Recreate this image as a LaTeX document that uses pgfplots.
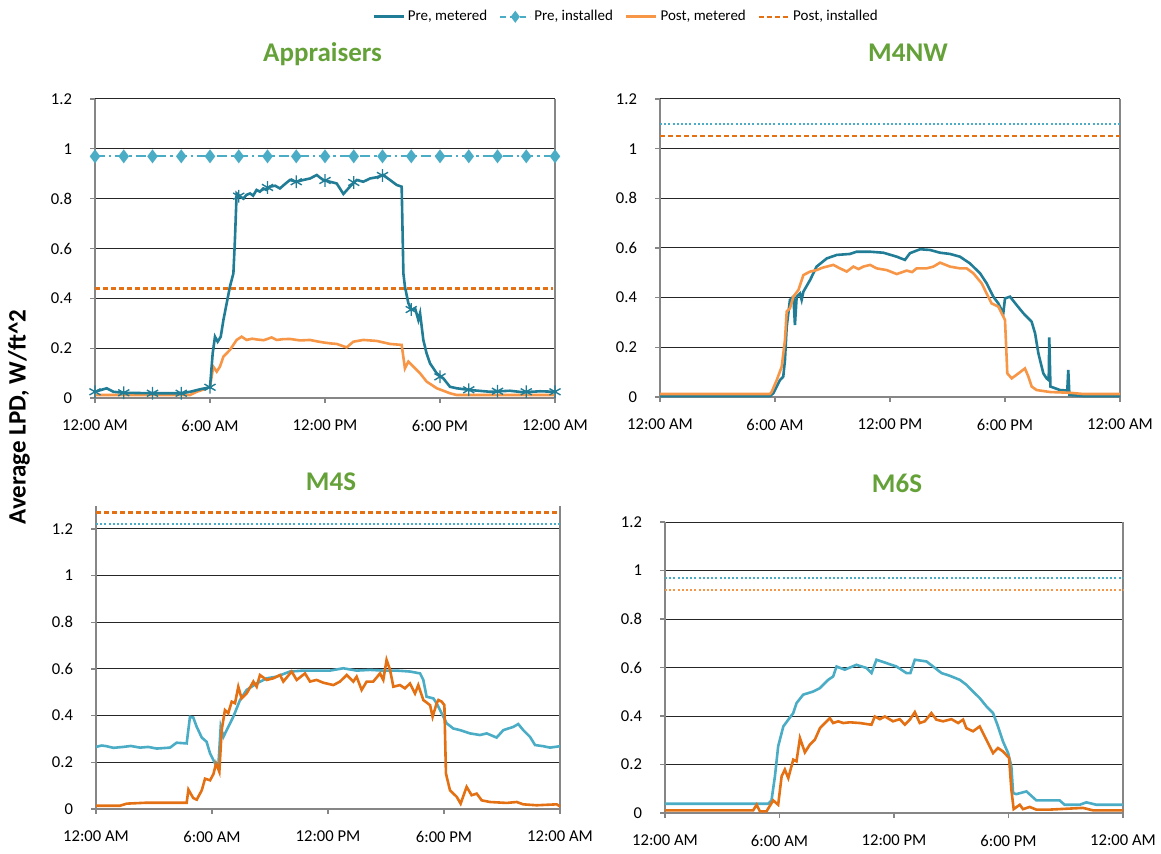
\documentclass[border=0pt]{standalone}
\usepackage{fontspec}
\setmainfont{Carlito}
\usepackage{pgfplots}
\pgfplotsset{compat=1.18}

\definecolor{preM}{RGB}{33,125,150}
\definecolor{preI}{RGB}{75,172,198}
\definecolor{postL}{RGB}{247,150,70}
\definecolor{postD}{RGB}{228,112,20}
\definecolor{ttl}{RGB}{101,161,57}
\definecolor{axgray}{RGB}{134,134,134}

\pgfplotsset{
  lpd/.style={
    scale only axis, anchor=south west,
    xmin=0, xmax=24, ymin=0, ymax=1.2,
    xtick={0,6,12,18,24},
    xticklabels={12:00 AM,6:00 AM,12:00 PM,6:00 PM,12:00 AM},
    ytick={0,0.2,0.4,0.6,0.8,1,1.2},
    ymajorgrids, major grid style={black!85, line width=0.5pt},
    axis x line*=bottom, axis y line*=left,
    axis line style={axgray, line width=0.6pt},
    tick align=outside, major tick length=2.5pt,
    tick style={axgray, line width=0.6pt},
    every tick label/.append style={font=\fontsize{8.3}{10}\selectfont},
    xticklabel style={yshift=-5pt},
    yticklabel style={xshift=-5.5pt},
    /pgf/number format/assume math mode=true,
    clip=false,
  },
  met/.style={line width=1.3pt},
  inst dash/.style={postD, line width=1.2pt, dash pattern=on 2.5pt off 1.5pt},
  dotc/.style={line width=1.1pt, dash pattern=on 1pt off 1.1pt},
}

\begin{document}
\begin{tikzpicture}
\useasboundingbox (0,0) rectangle (580.5pt,-427pt);

% ---------- Appraisers ----------
\begin{axis}[lpd, at={(47.5pt,-199pt)}, width=230pt, height=149.5pt,
  legend columns=4,
  legend style={at={(1.1554,1.275)}, anchor=center, draw=none, fill=none,
    font=\fontsize{7.5}{9}\selectfont, inner sep=0pt,
    nodes={inner sep=1.5pt},
    /tikz/every even column/.append style={column sep=4.5pt}},
  legend image code/.code={\draw[mark repeat=2,mark phase=2,#1] plot coordinates {(0pt,0pt) (7.5pt,0pt) (15pt,0pt)};},
]
\addlegendimage{preM, met}
\addlegendentry{Pre, metered}
\addlegendimage{preI, line width=1pt, dash pattern=on 3pt off 2pt, mark=diamond*, mark size=2.2pt, mark options={solid}}
\addlegendentry{Pre, installed}
\addlegendimage{postL, met}
\addlegendentry{Post, metered}
\addlegendimage{inst dash}
\addlegendentry{Post, installed}

\draw[axgray, line width=0.6pt] (rel axis cs:1,0) -- (rel axis cs:1,1);

\addplot[inst dash, forget plot] coordinates {(0,0.44) (23.9,0.44)};
\addplot[preI, line width=1.1pt, dash pattern=on 5pt off 2pt on 1.2pt off 2pt,
  mark=diamond*, mark size=2.6pt, mark options={solid}, forget plot] coordinates {
  (0,0.97) (1.5,0.97) (3,0.97) (4.5,0.97) (6,0.97) (7.5,0.97) (9,0.97) (10.5,0.97)
  (12,0.97) (13.5,0.97) (15,0.97) (16.5,0.97) (18,0.97) (19.5,0.97) (21,0.97)
  (22.5,0.97) (24,0.97)};
\addplot[postL, met, forget plot] coordinates {
  (0,0.012) (4.96,0.012) (5.3,0.025) (5.74,0.036) (6.0,0.045) (6.17,0.126)
  (6.35,0.106) (6.52,0.126) (6.7,0.166) (7.04,0.193) (7.39,0.233) (7.65,0.246)
  (7.91,0.233) (8.2,0.238) (8.43,0.235) (8.8,0.232) (9.22,0.243) (9.48,0.233)
  (9.8,0.236) (10.17,0.237) (10.7,0.231) (11.22,0.233) (11.6,0.227)
  (11.91,0.223) (12.3,0.219) (12.61,0.217) (13.13,0.203) (13.48,0.226) (14.0,0.233) (14.7,0.229)
  (15.39,0.217) (16.0,0.213) (16.17,0.119) (16.35,0.146) (16.61,0.126) (16.96,0.099)
  (17.3,0.066) (17.83,0.039) (18.52,0.019) (18.87,0.012) (24,0.012)};
\addplot[preM, met, forget plot] coordinates {
  (0,0.025) (0.61,0.039) (0.96,0.025) (1.48,0.021) (3.04,0.019) (4.52,0.019)
  (4.96,0.025) (5.48,0.035) (6.0,0.043) (6.14,0.179) (6.26,0.246) (6.4,0.226)
  (6.56,0.246) (6.7,0.313) (6.87,0.38) (7.04,0.447) (7.22,0.5) (7.3,0.634)
  (7.39,0.821) (7.55,0.81) (7.74,0.80) (7.9,0.815) (8.09,0.821) (8.25,0.812) (8.43,0.835)
  (8.6,0.828) (8.78,0.841) (8.95,0.835) (9.13,0.848) (9.4,0.852)
  (9.65,0.841) (9.9,0.858) (10.17,0.875) (10.52,0.868) (10.87,0.875) (11.22,0.881) (11.57,0.895)
  (11.75,0.884) (11.91,0.875) (12.26,0.868) (12.61,0.861) (12.96,0.819) (13.3,0.848) (13.65,0.875)
  (14.0,0.868) (14.35,0.881) (14.7,0.886) (15.04,0.895) (15.39,0.875) (15.74,0.855)
  (16.0,0.848) (16.09,0.5) (16.17,0.447) (16.35,0.38) (16.52,0.353) (16.7,0.36)
  (16.87,0.313) (16.96,0.34) (17.13,0.233) (17.3,0.179) (17.48,0.139) (17.83,0.099)
  (18.17,0.079) (18.52,0.045) (18.87,0.039) (19.57,0.032) (20.61,0.025) (21.65,0.029)
  (22.35,0.023) (23.22,0.027) (24,0.025)};
\addplot[preM, only marks, mark=asterisk, mark size=3.2pt, line width=0.7pt, forget plot] coordinates {
  (0,0.025) (1.5,0.021) (3,0.019) (4.5,0.019) (6,0.043) (7.5,0.81) (9,0.845)
  (10.5,0.868) (12,0.873) (13.5,0.865) (15,0.893) (16.5,0.355) (18,0.085)
  (19.5,0.033) (21,0.027) (22.5,0.025) (24,0.025)};
\end{axis}

% ---------- M4NW ----------
\begin{axis}[lpd, at={(330pt,-198.5pt)}, width=230pt, height=149pt]
\draw[axgray, line width=0.6pt] (rel axis cs:1,0) -- (rel axis cs:1,1);
\addplot[preI, dotc] coordinates {(0,1.10) (24,1.10)};
\addplot[inst dash] coordinates {(0,1.05) (24,1.05)};
\addplot[preM, met] coordinates {
  (0,0.004) (5.74,0.004) (5.91,0.015) (6.26,0.068) (6.43,0.082) (6.52,0.149)
  (6.61,0.283) (6.78,0.391) (6.96,0.404) (7.04,0.29) (7.13,0.404) (7.3,0.417)
  (7.39,0.391) (7.48,0.424) (7.83,0.471) (8.17,0.525) (8.7,0.558) (9.22,0.572)
  (9.91,0.576) (10.26,0.585) (10.96,0.585) (11.65,0.581) (12.35,0.565) (12.78,0.552)
  (13.04,0.579) (13.57,0.595) (14.09,0.592) (14.61,0.581) (15.13,0.576) (15.65,0.565)
  (16.17,0.538) (16.7,0.498) (17.04,0.458) (17.39,0.404) (17.65,0.377) (17.91,0.337)
  (18.0,0.397) (18.26,0.404) (18.61,0.37) (18.96,0.337) (19.39,0.303) (19.57,0.256)
  (19.74,0.176) (20.0,0.095) (20.17,0.075) (20.28,0.068) (20.31,0.240) (20.37,0.042)
  (20.87,0.028) (21.25,0.026) (21.3,0.109) (21.36,0.008) (22.09,0.004) (24,0.004)};
\addplot[postL, met] coordinates {
  (0,0.012) (5.74,0.012) (5.83,0.021) (6.09,0.068) (6.35,0.122) (6.52,0.23)
  (6.61,0.344) (6.78,0.357) (6.96,0.404) (7.22,0.431) (7.48,0.491) (7.83,0.505)
  (8.17,0.511) (8.45,0.52) (8.7,0.525) (9.04,0.532) (9.39,0.518) (9.74,0.505) (10.09,0.525)
  (10.35,0.515) (10.61,0.525) (10.96,0.532) (11.3,0.518) (11.83,0.511) (12.35,0.495) (12.87,0.509)
  (13.15,0.503) (13.39,0.518) (13.91,0.518) (14.26,0.525) (14.61,0.541) (15.13,0.525) (15.65,0.518)
  (16.0,0.518) (16.35,0.498) (16.78,0.458) (17.04,0.417) (17.3,0.377) (17.65,0.364)
  (18.0,0.31) (18.12,0.095) (18.35,0.075) (18.7,0.095) (19.04,0.115) (19.22,0.082)
  (19.39,0.042) (19.65,0.028) (20.35,0.02) (21.39,0.017) (22.09,0.012) (24,0.012)};
\end{axis}

% ---------- M4S ----------
\begin{axis}[lpd, at={(48pt,-404.5pt)}, width=232pt, height=151.7pt, ymax=1.3]
\draw[axgray, line width=0.6pt] (rel axis cs:1,0) -- (rel axis cs:1,1);
\addplot[preI, dotc] coordinates {(0,1.22) (24,1.22)};
\addplot[inst dash] coordinates {(0,1.27) (24,1.27)};
\addplot[preI, met] coordinates {
  (0,0.266) (0.3,0.272) (0.55,0.269) (0.9,0.262) (1.41,0.266) (1.8,0.27) (2.28,0.263) (2.7,0.266) (3.14,0.259) (3.83,0.263)
  (4.17,0.284) (4.69,0.281) (4.86,0.395) (5.03,0.392) (5.21,0.352) (5.47,0.306)
  (5.72,0.288) (5.9,0.238) (6.16,0.195) (6.33,0.188) (6.45,0.352) (6.59,0.309)
  (6.76,0.338) (7.1,0.395) (7.45,0.467) (7.79,0.51) (8.31,0.538) (8.83,0.56)
  (9.34,0.567) (10.03,0.589) (10.72,0.593) (11.41,0.593) (12.1,0.593) (12.79,0.603)
  (13.48,0.593) (14.17,0.596) (14.86,0.593) (15.55,0.593) (16.24,0.589) (16.76,0.581)
  (16.93,0.553) (17.1,0.481) (17.45,0.474) (17.62,0.453) (17.88,0.41) (18.14,0.367)
  (18.48,0.345) (18.83,0.338) (19.34,0.324) (19.86,0.317) (20.21,0.324) (20.72,0.306)
  (21.07,0.338) (21.59,0.352) (21.84,0.364) (22.1,0.338) (22.45,0.309) (22.71,0.274)
  (23.14,0.269) (23.48,0.263) (24,0.269)};
\addplot[postD, met] coordinates {
  (0,0.014) (1.24,0.014) (1.59,0.023) (2.62,0.027) (4.69,0.027) (4.78,0.083)
  (5.03,0.047) (5.21,0.04) (5.47,0.08) (5.64,0.13) (5.9,0.123) (6.07,0.149)
  (6.21,0.195) (6.38,0.159) (6.5,0.338) (6.67,0.424) (6.84,0.41) (7.02,0.46)
  (7.19,0.453) (7.36,0.524) (7.53,0.474) (7.79,0.495) (8.14,0.546) (8.31,0.524)
  (8.48,0.574) (8.83,0.553) (9.17,0.56) (9.52,0.574) (9.69,0.546) (10.12,0.589)
  (10.38,0.553) (10.81,0.581) (11.07,0.546) (11.41,0.553) (11.76,0.541) (12.28,0.531)
  (12.62,0.546) (12.97,0.574) (13.31,0.546) (13.48,0.567) (13.74,0.51) (14.0,0.546)
  (14.34,0.546) (14.69,0.581) (14.86,0.553) (15.03,0.639) (15.21,0.596) (15.38,0.524)
  (15.72,0.531) (15.98,0.517) (16.24,0.538) (16.5,0.495) (16.67,0.531) (16.93,0.467)
  (17.28,0.445) (17.41,0.395) (17.62,0.453) (17.71,0.467) (17.88,0.46) (18.02,0.445)
  (18.1,0.152) (18.31,0.08) (18.66,0.052) (18.86,0.023) (19.17,0.095) (19.43,0.059)
  (19.69,0.066) (19.95,0.037) (20.38,0.03) (21.24,0.026) (21.76,0.03) (22.1,0.02)
  (22.79,0.016) (23.83,0.02) (24,0.011)};
\end{axis}

% ---------- M6S ----------
\begin{axis}[lpd, at={(332.5pt,-406.5pt)}, width=229pt, height=145.5pt]
\draw[axgray, line width=0.6pt] (rel axis cs:1,0) -- (rel axis cs:1,1);
\addplot[preI, dotc] coordinates {(0,0.97) (24,0.97)};
\addplot[postL, dotc] coordinates {(0,0.92) (24,0.92)};
\addplot[preI, met] coordinates {
  (0,0.038) (5.41,0.038) (5.58,0.052) (5.76,0.151) (5.93,0.275) (6.2,0.357)
  (6.46,0.385) (6.72,0.412) (6.89,0.453) (7.24,0.488) (7.77,0.501) (8.12,0.515)
  (8.55,0.549) (8.81,0.563) (8.99,0.604) (9.42,0.591) (10.03,0.611) (10.56,0.598)
  (10.82,0.577) (11.08,0.632) (11.61,0.618) (12.13,0.604) (12.65,0.577) (12.86,0.577)
  (13.09,0.632) (13.7,0.625) (14.05,0.604) (14.49,0.577) (14.92,0.566) (15.45,0.549)
  (15.79,0.529) (16.14,0.501) (16.49,0.474) (16.84,0.44) (17.19,0.412) (17.45,0.357)
  (17.71,0.295) (17.98,0.247) (18.15,0.192) (18.24,0.082) (18.41,0.078) (18.94,0.089)
  (19.46,0.052) (20.68,0.052) (20.94,0.034) (21.73,0.034) (22.08,0.044) (22.6,0.034)
  (24,0.034)};
\addplot[postD, met] coordinates {
  (0,0.011) (4.62,0.011) (4.8,0.034) (4.97,0.007) (5.32,0.007) (5.67,0.052)
  (5.93,0.034) (6.11,0.151) (6.28,0.179) (6.46,0.144) (6.72,0.22) (6.89,0.213)
  (7.07,0.309) (7.33,0.25) (7.59,0.282) (7.85,0.302) (8.12,0.35) (8.38,0.371)
  (8.64,0.391) (8.81,0.371) (9.08,0.378) (9.34,0.371) (9.69,0.374) (10.21,0.371)
  (10.82,0.364) (10.99,0.398) (11.26,0.387) (11.52,0.398) (11.95,0.378) (12.3,0.387)
  (12.57,0.364) (12.83,0.385) (13.09,0.416) (13.35,0.371) (13.61,0.378) (13.96,0.412)
  (14.22,0.385) (14.57,0.378) (15.01,0.387) (15.36,0.371) (15.62,0.385) (15.79,0.35)
  (16.14,0.337) (16.49,0.357) (16.84,0.302) (17.19,0.247) (17.45,0.268) (17.71,0.254)
  (18.03,0.227) (18.15,0.096) (18.27,0.016) (18.59,0.034) (18.76,0.016) (19.11,0.025)
  (19.46,0.014) (20.16,0.014) (21.9,0.021) (22.43,0.011) (24,0.011)};
\end{axis}

% titles and shared y label
\begin{scope}[every node/.style={font=\bfseries\fontsize{13.5}{16}\selectfont, text=ttl, anchor=base}]
\node at (161.25pt,-30.75pt) {Appraisers};
\node at (454pt,-30.75pt) {M4NW};
\node at (165.5pt,-245.5pt) {M4S};
\node at (448.5pt,-246.5pt) {M6S};
\end{scope}
\node[rotate=90, font=\bfseries\fontsize{12.5}{15}\selectfont] at (9.5pt,-208.5pt) {Average LPD, W/ft\textasciicircum 2};
\end{tikzpicture}
\end{document}
